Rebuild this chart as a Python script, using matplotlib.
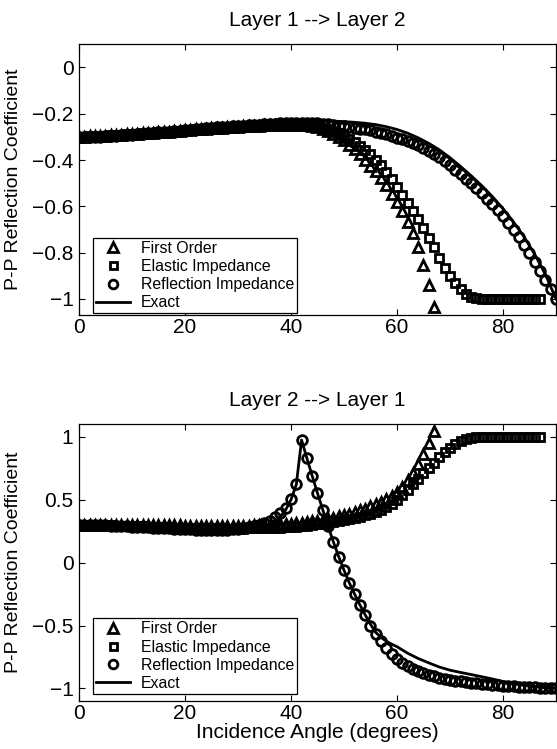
import matplotlib
matplotlib.use("Agg")
import matplotlib.pyplot as plt

plt.rcParams['font.family'] = ['Liberation Sans', 'DejaVu Sans']

# ---------------- data: Layer 1 --> Layer 2 ----------------
ang_fo = list(range(0, 68))
ang_ei = list(range(0, 88))
ang_ri = list(range(0, 91))

top_first_order = [
    -0.300, -0.299, -0.298, -0.297, -0.296, -0.295, -0.293, -0.292, -0.291, -0.289,
    -0.288, -0.286, -0.285, -0.283, -0.282, -0.280, -0.278, -0.277, -0.275, -0.273,
    -0.272, -0.270, -0.268, -0.267, -0.265, -0.263, -0.262, -0.260, -0.259, -0.257,
    -0.256, -0.255, -0.253, -0.252, -0.251, -0.250, -0.249, -0.248, -0.248, -0.247,
    -0.247, -0.247, -0.248, -0.250, -0.254, -0.259, -0.266, -0.275, -0.286, -0.299,
    -0.315, -0.333, -0.353, -0.376, -0.400, -0.424, -0.449, -0.477, -0.510, -0.545,
    -0.582, -0.622, -0.668, -0.716, -0.776, -0.853, -0.940, -1.036]

top_elastic = [
    -0.300, -0.299, -0.298, -0.297, -0.296, -0.295, -0.293, -0.292, -0.291, -0.289,
    -0.288, -0.286, -0.285, -0.283, -0.282, -0.280, -0.278, -0.277, -0.275, -0.273,
    -0.272, -0.270, -0.268, -0.267, -0.265, -0.263, -0.262, -0.260, -0.259, -0.257,
    -0.256, -0.255, -0.253, -0.252, -0.251, -0.250, -0.249, -0.248, -0.248, -0.247,
    -0.247, -0.247, -0.248, -0.250, -0.253, -0.257, -0.262, -0.268, -0.276, -0.285,
    -0.296, -0.308, -0.322, -0.338, -0.356, -0.376, -0.398, -0.423, -0.451, -0.482,
    -0.515, -0.550, -0.586, -0.620, -0.656, -0.693, -0.735, -0.778, -0.822, -0.865,
    -0.902, -0.933, -0.958, -0.977, -0.990, -0.997, -1.000, -1.000, -1.000, -1.000,
    -1.000, -1.000, -1.000, -1.000, -1.000, -1.000, -1.000, -1.000]

top_reflection = [
    -0.302, -0.302, -0.301, -0.300, -0.299, -0.298, -0.297, -0.295, -0.294, -0.292,
    -0.291, -0.289, -0.287, -0.285, -0.283, -0.281, -0.279, -0.277, -0.275, -0.273,
    -0.271, -0.269, -0.267, -0.265, -0.263, -0.261, -0.259, -0.257, -0.256, -0.254,
    -0.253, -0.251, -0.250, -0.248, -0.247, -0.245, -0.244, -0.243, -0.242, -0.241,
    -0.240, -0.240, -0.240, -0.240, -0.241, -0.242, -0.244, -0.246, -0.249, -0.252,
    -0.255, -0.258, -0.261, -0.264, -0.268, -0.272, -0.277, -0.283, -0.289, -0.296,
    -0.303, -0.311, -0.319, -0.328, -0.337, -0.348, -0.361, -0.374, -0.389, -0.405,
    -0.423, -0.442, -0.461, -0.481, -0.501, -0.522, -0.544, -0.567, -0.591, -0.617,
    -0.643, -0.671, -0.701, -0.732, -0.766, -0.802, -0.841, -0.880, -0.920, -0.958,
    -1.000]

top_exact_ang = [0, 2, 4, 6, 8, 10, 12, 14, 16, 18, 20, 22, 24, 26, 28, 30, 32, 34,
                 36, 38, 40, 42, 44, 46, 48, 50, 52, 54, 56, 58, 60, 62, 64, 66, 68,
                 70, 72, 74, 76, 78, 80, 82, 84, 86, 88, 90]
top_exact = [-0.300, -0.299, -0.297, -0.294, -0.291, -0.288, -0.284, -0.280, -0.276,
             -0.272, -0.268, -0.264, -0.260, -0.256, -0.252, -0.249, -0.245, -0.242,
             -0.239, -0.236, -0.234, -0.232, -0.231, -0.231, -0.232, -0.234, -0.237,
             -0.241, -0.247, -0.256, -0.268, -0.284, -0.304, -0.328, -0.356, -0.390,
             -0.428, -0.468, -0.511, -0.558, -0.610, -0.668, -0.733, -0.808, -0.895,
             -1.000]

# ---------------- data: Layer 2 --> Layer 1 ----------------
bot_first_order = [
    0.300, 0.300, 0.300, 0.300, 0.300, 0.300, 0.300, 0.299, 0.299, 0.299,
    0.299, 0.298, 0.298, 0.298, 0.297, 0.297, 0.297, 0.296, 0.296, 0.296,
    0.295, 0.295, 0.295, 0.294, 0.294, 0.294, 0.294, 0.294, 0.294, 0.294,
    0.294, 0.295, 0.295, 0.296, 0.297, 0.298, 0.300, 0.302, 0.304, 0.307,
    0.310, 0.314, 0.318, 0.323, 0.328, 0.334, 0.341, 0.349, 0.357, 0.367,
    0.377, 0.389, 0.401, 0.415, 0.430, 0.447, 0.465, 0.485, 0.507, 0.532,
    0.560, 0.603, 0.655, 0.715, 0.785, 0.865, 0.950, 1.050]

bot_elastic = [
    0.300, 0.300, 0.299, 0.299, 0.298, 0.297, 0.296, 0.295, 0.294, 0.292,
    0.291, 0.289, 0.288, 0.286, 0.285, 0.283, 0.282, 0.280, 0.279, 0.278,
    0.277, 0.276, 0.275, 0.274, 0.273, 0.272, 0.272, 0.271, 0.271, 0.271,
    0.271, 0.271, 0.272, 0.272, 0.273, 0.274, 0.276, 0.277, 0.279, 0.282,
    0.284, 0.287, 0.291, 0.295, 0.299, 0.304, 0.309, 0.315, 0.322, 0.329,
    0.337, 0.346, 0.356, 0.366, 0.377, 0.390, 0.405, 0.420, 0.440, 0.465,
    0.495, 0.535, 0.578, 0.622, 0.666, 0.710, 0.754, 0.796, 0.838, 0.877,
    0.912, 0.942, 0.966, 0.982, 0.992, 0.997, 1.000, 1.000, 1.000, 1.000,
    1.000, 1.000, 1.000, 1.000, 1.000, 1.000, 1.000, 1.000]

bot_reflection = [
    0.300, 0.300, 0.299, 0.298, 0.297, 0.296, 0.294, 0.292, 0.290, 0.288,
    0.286, 0.284, 0.282, 0.280, 0.278, 0.276, 0.274, 0.272, 0.270, 0.268,
    0.266, 0.265, 0.263, 0.262, 0.261, 0.260, 0.260, 0.261, 0.263, 0.266,
    0.270, 0.275, 0.281, 0.290, 0.300, 0.315, 0.335, 0.360, 0.393, 0.437,
    0.504, 0.625, 0.972, 0.829, 0.689, 0.551, 0.419, 0.288, 0.163, 0.047,
    -0.062, -0.162, -0.252, -0.340, -0.420, -0.500, -0.570, -0.625, -0.680, -0.725,
    -0.765, -0.795, -0.820, -0.843, -0.862, -0.878, -0.892, -0.904, -0.914, -0.923,
    -0.931, -0.938, -0.944, -0.950, -0.955, -0.960, -0.964, -0.968, -0.972, -0.975,
    -0.978, -0.981, -0.984, -0.986, -0.988, -0.990, -0.992, -0.994, -0.996, -0.998,
    -1.000]

bot_exact_ang = [0, 4, 8, 12, 16, 20, 24, 28, 30, 32, 33, 34, 35, 36, 37, 38, 39, 40,
                 41, 42, 43, 44, 45, 46, 47, 48, 49, 50, 51, 52, 53, 54, 55, 56, 57,
                 58, 59, 60, 62, 64, 66, 68, 70, 72, 74, 76, 78, 80, 82, 84, 86, 88, 90]
bot_exact = [0.300, 0.298, 0.292, 0.283, 0.274, 0.266, 0.260, 0.257, 0.258, 0.263,
             0.268, 0.276, 0.288, 0.305, 0.330, 0.365, 0.420, 0.500, 0.620, 0.975,
             0.830, 0.690, 0.552, 0.420, 0.290, 0.165, 0.048, -0.060, -0.160, -0.250,
             -0.335, -0.415, -0.490, -0.555, -0.595, -0.625, -0.648, -0.668, -0.720,
             -0.762, -0.797, -0.830, -0.855, -0.873, -0.890, -0.907, -0.925, -0.945,
             -0.962, -0.977, -0.988, -0.995, -1.000]

x_ticks = [0, 20, 40, 60, 80]
x_tick_labels = ['0', '20', '40', '60', '80']
top_y_ticks = [0, -0.2, -0.4, -0.6, -0.8, -1]
top_y_tick_labels = ['0', '\u22120.2', '\u22120.4', '\u22120.6', '\u22120.8', '\u22121']
bot_y_ticks = [1, 0.5, 0, -0.5, -1]
bot_y_tick_labels = ['1', '0.5', '0', '\u22120.5', '\u22121']
legend_labels = ['First Order', 'Elastic Impedance', 'Reflection Impedance', 'Exact']
titles = ['Layer 1 --> Layer 2', 'Layer 2 --> Layer 1']
ylabel = 'P-P Reflection Coefficient'
xlabel = 'Incidence Angle (degrees)'

# ---------------- figure ----------------
fig = plt.figure(figsize=(5.57, 7.49), dpi=100)
ax1 = fig.add_axes([0.1418, 0.5794, 0.8564, 0.3614])
ax2 = fig.add_axes([0.1418, 0.0641, 0.8564, 0.3694])

FS = 15
mk = dict(linestyle='none', color='k', markerfacecolor='none',
          markeredgecolor='k', markeredgewidth=2.0)


def draw(ax, fo, ei, ri, ex_a, ex, ylim, yt, ytl, title, leg_anchor):
    ax.plot(ang_fo, fo, marker='^', markersize=7.8, label=legend_labels[0], **mk)
    ax.plot(ang_ei, ei, marker='s', markersize=5.6, label=legend_labels[1], **mk)
    ax.plot(ang_ri, ri, marker='o', markersize=7.0, label=legend_labels[2], **mk)
    ax.plot(ex_a, ex, color='k', linewidth=2.0, label=legend_labels[3])
    ax.set_xlim(0, 90)
    ax.set_ylim(*ylim)
    ax.set_xticks(x_ticks)
    ax.set_xticklabels(x_tick_labels)
    ax.set_yticks(yt)
    ax.set_yticklabels(ytl)
    ax.tick_params(direction='in', top=True, right=True, length=4,
                   width=0.8, labelsize=FS)
    ax.tick_params(axis='x', pad=2)
    ax.tick_params(axis='y', pad=4)
    for s in ax.spines.values():
        s.set_linewidth(0.9)
    ax.set_title(title, fontsize=FS, pad=13)
    ax.set_ylabel(ylabel, fontsize=14)
    ax.yaxis.set_label_coords(-0.12, 0.5)
    leg = ax.legend(loc='lower left', bbox_to_anchor=leg_anchor, fontsize=11.4,
                    frameon=True, fancybox=False, edgecolor='k', framealpha=1,
                    borderaxespad=0, borderpad=0.2, labelspacing=0.2,
                    handlelength=2.1, handletextpad=0.7, markerscale=0.9)
    leg.get_frame().set_linewidth(0.9)


draw(ax1, top_first_order, top_elastic, top_reflection, top_exact_ang, top_exact,
     (-1.07, 0.1), top_y_ticks, top_y_tick_labels, titles[0], (0.03, 0.006))
draw(ax2, bot_first_order, bot_elastic, bot_reflection, bot_exact_ang, bot_exact,
     (-1.1, 1.1), bot_y_ticks, bot_y_tick_labels, titles[1], (0.03, 0.025))
ax2.set_xlabel(xlabel, fontsize=FS, labelpad=0)

fig.savefig('out.png', dpi=100)
